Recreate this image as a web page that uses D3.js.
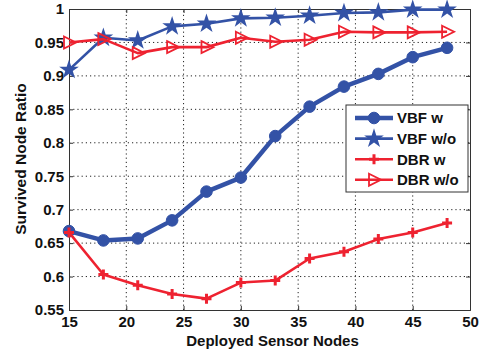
<!DOCTYPE html>
<html>
<head>
<meta charset="utf-8">
<script src="https://cdn.jsdelivr.net/npm/d3@7"></script>
<style>
body { margin: 0; background: #fff; }
svg { display: block; font-family: "Liberation Sans", Arial, sans-serif; font-weight: bold; }
.grid line { stroke: #222; stroke-dasharray: 1.2 3; stroke-width: 1; }
.tick text { font-size: 15px; fill: #111; font-family: "Liberation Sans", Arial, sans-serif; font-weight: bold; }
</style>
</head>
<body>
<svg id="chart" width="482" height="351"></svg>
<script>
// deployed sensor nodes on the x axis
var nodes = [15, 18, 21, 24, 27, 30, 33, 36, 39, 42, 45, 48];
var vbfWith = [0.668, 0.654, 0.657, 0.684, 0.727, 0.748, 0.810, 0.854, 0.884, 0.903, 0.928, 0.942];
var vbfWithout = [0.909, 0.957, 0.953, 0.974, 0.978, 0.986, 0.987, 0.990, 0.994, 0.995, 0.999, 0.999];
var dbrWith = [0.666, 0.603, 0.587, 0.574, 0.567, 0.591, 0.594, 0.627, 0.637, 0.656, 0.666, 0.680];
var dbrWithout = [0.950, 0.955, 0.934, 0.943, 0.943, 0.957, 0.951, 0.954, 0.966, 0.965, 0.965, 0.966];
var xTicks = [15, 20, 25, 30, 35, 40, 45, 50];
var yTicks = [0.55, 0.6, 0.65, 0.7, 0.75, 0.8, 0.85, 0.9, 0.95, 1];
var seriesNames = ["VBF w", "VBF w/o", "DBR w", "DBR w/o"];

var blue = "#3352a6", red = "#ee2230";
var margin = {left: 69, right: 12, top: 9, bottom: 41};
var svg = d3.select("#chart");
var W = +svg.attr("width"), H = +svg.attr("height");
var x = d3.scaleLinear().domain([15, 50]).range([margin.left, W - margin.right]);
var y = d3.scaleLinear().domain([0.55, 1]).range([H - margin.bottom, margin.top]);

// dotted grid first so lines sit on top
var grid = svg.append("g").attr("class", "grid");
grid.selectAll("line.v").data(xTicks.slice(1, -1)).enter().append("line")
	.attr("x1", x).attr("x2", x).attr("y1", y(0.55)).attr("y2", y(1));
grid.selectAll("line.h").data(yTicks.slice(1, -1)).enter().append("line")
	.attr("x1", x(15)).attr("x2", x(50)).attr("y1", y).attr("y2", y);

// axes with matlab style inward ticks
var fmt = function(d) { return d3.format("")(+d.toFixed(2)); };
svg.append("g").attr("transform", "translate(0," + y(0.55) + ")")
	.call(d3.axisBottom(x).tickValues(xTicks).tickSize(-4).tickPadding(6).tickFormat(fmt));
svg.append("g").attr("transform", "translate(" + x(15) + ",0)")
	.call(d3.axisLeft(y).tickValues(yTicks).tickSize(-4).tickPadding(5).tickFormat(fmt));
svg.append("g").attr("transform", "translate(0," + y(1) + ")")
	.call(d3.axisTop(x).tickValues(xTicks).tickSize(-4).tickFormat(""));
svg.append("g").attr("transform", "translate(" + x(50) + ",0)")
	.call(d3.axisRight(y).tickValues(yTicks).tickSize(-4).tickFormat(""));
svg.selectAll(".domain").attr("stroke", "#333");
svg.selectAll(".tick line").attr("stroke", "#333");

// markers
function marker(g, type, color) {
	if(type == "circle")
		g.append("circle").attr("r", 5.8).attr("fill", color).attr("stroke", color);
	else if(type == "star")
		g.append("path").attr("d", d3.symbol().type(d3.symbolStar).size(120)()).attr("fill", color);
	else if(type == "plus")
		g.append("path").attr("d", "M-5,0H5M0,-5V5").attr("stroke", color).attr("stroke-width", 3).attr("fill", "none");
	else if(type == "tri")
		g.append("path").attr("d", "M-5,-6L7,0L-5,6Z").attr("stroke", color).attr("stroke-width", 1.8).attr("fill", "none");
}

var series = [
	{name: seriesNames[0], values: vbfWith, color: blue, width: 4.5, mark: "circle"},
	{name: seriesNames[1], values: vbfWithout, color: blue, width: 2.6, mark: "star"},
	{name: seriesNames[2], values: dbrWith, color: red, width: 2.6, mark: "plus"},
	{name: seriesNames[3], values: dbrWithout, color: red, width: 2.6, mark: "tri"}
];
var line = d3.line().x(function(d, i) { return x(nodes[i]); }).y(function(d) { return y(d); });
series.forEach(function(s) {
	svg.append("path").attr("d", line(s.values)).attr("fill", "none")
		.attr("stroke", s.color).attr("stroke-width", s.width).attr("stroke-linejoin", "round");
	s.values.forEach(function(v, i) {
		marker(svg.append("g").attr("transform", "translate(" + x(nodes[i]) + "," + y(v) + ")"), s.mark, s.color);
	});
});

// legend box upper right of the lower half
var legend = svg.append("g").attr("transform", "translate(346,105)");
legend.append("rect").attr("width", 122).attr("height", 87).attr("fill", "#fff").attr("stroke", "#333");
series.forEach(function(s, i) {
	var row = legend.append("g").attr("transform", "translate(0," + (13 + i * 20.6) + ")");
	row.append("line").attr("x1", 9).attr("x2", 47).attr("stroke", s.color).attr("stroke-width", s.width);
	marker(row.append("g").attr("transform", "translate(28,0)"), s.mark, s.color);
	row.append("text").attr("x", 51).attr("dy", "0.36em").attr("font-size", 15).attr("fill", "#111").text(s.name);
});

// axis titles
svg.append("text").attr("x", x(32.5) + 3).attr("y", 346).attr("text-anchor", "middle")
	.attr("font-size", 15).attr("fill", "#111").text("Deployed Sensor Nodes");
svg.append("text").attr("transform", "translate(26,159) rotate(-90)").attr("text-anchor", "middle")
	.attr("font-size", 15.5).attr("fill", "#111").text("Survived Node Ratio");
</script>
</body>
</html>
